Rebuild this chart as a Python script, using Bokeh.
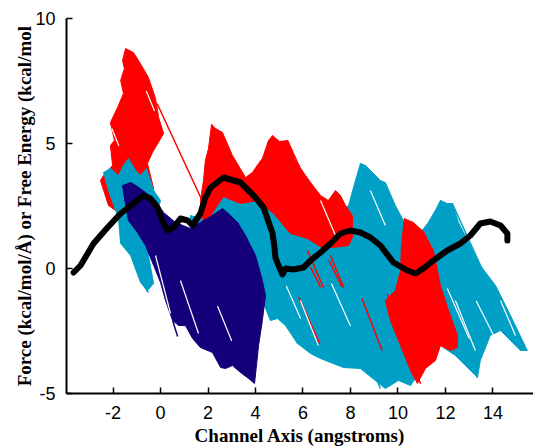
from bokeh.plotting import figure
from bokeh.models import FixedTicker
from bokeh.embed import file_html
from bokeh.resources import INLINE

# ---------------- data ----------------
# free energy profile (black)
fe_x = [-3.66, -3.37, -2.82, -2.23, -1.68, -1.14, -0.72, -0.42, -0.13, 0.08, 0.29, 0.55,
        0.84, 1.14, 1.35, 1.68, 1.89, 2.11, 2.65, 3.37, 3.92, 4.34, 4.72, 4.80, 4.84,
        4.97, 5.14, 5.26, 5.60, 6.02, 6.32, 6.74, 7.16, 7.58, 8.00, 8.42, 8.84, 9.26,
        9.81, 10.40, 10.74, 11.07, 11.49, 12.08, 12.63, 13.05, 13.47, 13.89, 14.32,
        14.61, 14.61]
fe_y = [-0.16, 0.12, 1.00, 1.64, 2.20, 2.60, 2.92, 2.80, 2.44, 1.92, 1.52, 1.64,
        2.00, 1.92, 1.72, 2.20, 2.84, 3.24, 3.64, 3.44, 2.92, 2.44, 1.40, 0.84, 0.44,
        0.12, -0.24, 0.00, -0.04, 0.04, 0.32, 0.64, 1.00, 1.40, 1.52, 1.44, 1.24, 0.92,
        0.24, -0.08, -0.20, 0.00, 0.32, 0.72, 1.00, 1.32, 1.80, 1.88, 1.72,
        1.40, 1.12]

# force trace envelopes
red_a_x = [-1.47, -1.14, -0.80, -0.51, -0.21, -0.08, 0.13, -0.34, -0.55, -0.29, -0.72,
           -1.26, -1.77, -2.19, -2.53, -2.40, -2.02, -2.11, -1.94, -2.11, -1.81, -1.56,
           -1.68, -1.52, -1.60]
red_a_y = [8.80, 8.64, 8.12, 7.64, 6.80, 6.04, 5.40, 4.64, 4.20, 3.20, 2.92,
           2.52, 2.24, 2.52, 3.52, 3.72, 4.12, 4.92, 5.12, 5.84, 6.44, 7.00,
           7.52, 8.00, 8.32]

red_b_x = [1.89, 2.02, 2.15, 2.32, 2.61, 3.03, 3.58, 3.87, 4.13, 4.29, 4.55, 4.72, 5.01,
           5.35, 5.68, 6.11, 6.32, 6.74, 7.07, 7.37, 7.58, 7.79, 8.08, 8.08, 7.92, 6.86,
           6.19, 5.47, 4.76, 4.08, 3.37, 2.65, 2.11, 1.81, 1.68, 1.81]
red_b_y = [4.32, 4.80, 5.76, 5.60, 5.44, 4.52, 3.64, 3.84, 4.20, 4.40, 5.12, 5.32, 5.08,
           5.12, 4.32, 3.72, 3.44, 2.92, 2.72, 3.12, 2.92, 2.52, 2.12, 1.24, 0.92, 0.80,
           1.20, 1.40, 2.20, 2.72, 2.60, 2.88, 2.12, 1.84, 2.72, 3.52]

red_c_x = [10.15, 10.27, 10.65, 11.07, 11.49, 11.79, 12.13, 12.51, 12.51, 12.21, 11.79,
           11.58, 11.16, 10.82, 10.53, 10.11, 9.68, 9.47, 9.89, 10.11]
red_c_y = [0.92, 2.00, 1.84, 1.48, 0.72, -0.68, -1.68, -2.68, -3.16, -3.28, -3.08,
           -3.68, -4.00, -4.60, -4.08, -3.08, -2.08, -1.28, -0.88, -0.08]

cyan_a_x = [-2.40, -2.11, -1.77, -1.56, -1.35, -1.05, -0.84, -0.59, -0.29, 0.00, -0.42,
            -0.51, -0.29, -0.55, -0.84, -1.26, -1.68, -1.77, -2.19]
cyan_a_y = [3.84, 4.00, 3.72, 4.12, 4.40, 3.92, 3.72, 4.00, 3.12, 2.72, 1.32,
            0.52, -0.60, -0.88, -0.56, 0.52, 1.00, 2.00, 3.12]

cyan_b_x = [1.26, 1.68, 1.89, 2.32, 2.61, 2.95, 3.37, 3.87, 4.42, 5.05, 5.47, 5.89, 6.32,
            6.95, 7.58, 7.92, 8.21, 8.42, 8.63, 8.93, 9.26, 9.47, 9.89, 10.23, 10.53,
            10.95, 11.28, 11.62, 11.79, 12.08, 12.29, 12.55, 13.05, 13.47, 14.11, 14.74,
            15.45, 15.16, 14.32, 13.89, 13.47, 13.35, 12.84, 12.42, 11.79, 11.37, 10.95,
            10.53, 10.02, 9.47, 9.05, 8.42, 7.71, 7.16, 6.74, 6.32, 5.77, 5.26, 4.93,
            4.63, 4.29, 3.79, 3.37, 2.74, 2.11, 1.68, 1.26]
cyan_b_y = [2.12, 2.00, 2.72, 2.92, 3.20, 2.92, 2.72, 2.80, 2.52, 2.32, 2.00, 1.84, 1.44,
            1.32, 2.32, 2.52, 3.52, 4.20, 4.12, 3.84, 3.52, 3.44, 2.52, 1.92, 1.60,
            1.44, 1.84, 2.40, 2.72, 2.60, 2.60, 1.84, 0.92, 0.12, -0.68, -1.88,
            -3.28, -3.28, -2.48, -2.68, -3.68, -4.36, -3.88, -3.48, -3.08, -3.68, -4.08,
            -4.68, -4.48, -4.80, -4.48, -4.00, -3.96, -3.76, -3.60, -3.40, -3.00, -2.28, -2.00,
            -2.08, -1.28, -0.08, 0.52, 0.92, 0.72, 1.12, 1.32]

navy_x = [-1.60, -1.26, -0.97, -0.63, -0.21, 0.13, 0.63, 1.26, 1.68, 2.11, 2.61, 2.95, 3.24,
          3.58, 4.00, 4.29, 4.42, 4.29, 4.13, 3.96, 3.71, 3.37, 3.03, 2.74, 2.53, 2.19,
          1.68, 1.35, 1.05, 0.76, 0.51, 0.21, 0.00, -0.29, -0.63, -0.97, -1.35, -1.47]
navy_y = [3.32, 3.44, 3.28, 3.04, 2.72, 2.24, 1.84, 1.60, 1.84, 2.08, 2.40, 2.12, 1.84,
          1.32, 0.52, -0.48, -1.08, -2.08, -3.08, -4.60, -4.40, -4.16, -3.88, -4.00, -3.96, -3.36,
          -3.16, -2.80, -2.28, -2.28, -2.08, -1.28, -0.56, 0.12, 0.92, 1.44, 1.92, 2.52]

# single force strokes (x0, y0, x1, y1)
red_s_x0 = [-0.14, 6.32, 5.82, 7.09, 8.49, 9.55, -1.14, -0.72, 6.19, 7.16, 4.55, 5.35, 2.15]
red_s_y0 = [6.59, 0.05, -1.15, 0.32, -1.21, -1.01, 1.40, -0.36, 0.72, 0.52, 5.12, 5.12, 5.76]
red_s_x1 = [1.81, 6.74, 6.71, 7.65, 9.33, 10.95, -0.84, -0.51, 6.86, 7.71, 5.60, 6.60, 3.00]
red_s_y1 = [2.60, -0.75, -3.01, -0.75, -3.28, -4.61, 0.60, -0.80, -0.76, -0.76, 2.90, 2.50, 3.90]

cyan_s_x0 = [4.93, 6.44, 8.13, 11.92, 13.77, 8.42, 11.79, -1.77, -0.84, 8.63, 12.29]
cyan_s_y0 = [-0.88, -1.16, -2.08, -0.08, -1.68, 4.20, 2.72, 2.04, -0.48, 4.12, 2.60]
cyan_s_x1 = [5.77, 7.71, 9.26, 13.35, 15.28, 9.56, 13.18, -1.14, -0.51, 10.60, 14.30]
cyan_s_y1 = [-3.00, -3.96, -4.80, -4.36, -3.28, 1.92, -0.08, 0.32, -0.96, -0.10, -1.60]

navy_s_x0 = [0.51, 3.24]
navy_s_y0 = [-2.08, 1.84]
navy_s_x1 = [0.72, 4.10]
navy_s_y1 = [-2.72, -0.10]

# white gaps between streaks inside the dense bands
gap_x0 = [-0.21, 0.84, -2.05, 12.08, 13.30, 7.20, 5.30, -0.60,
          12.42, 14.32, 5.89, 6.74, 8.84, 2.40]
gap_y0 = [0.52, -0.48, 5.60, -0.80, -1.30, -0.60, -0.70, 7.10,
          -1.28, -1.28, -1.28, 2.72, 3.12, -1.50]
gap_x1 = [0.42, 1.60, -1.75, 13.00, 14.20, 8.00, 5.90, -0.25,
          13.26, 14.95, 6.65, 7.37, 9.47, 3.00]
gap_y1 = [-1.80, -2.60, 4.90, -2.80, -3.00, -2.30, -2.00, 6.30,
          -3.28, -2.68, -3.08, 1.32, 1.72, -2.90]

x_ticks = [-2, 0, 2, 4, 6, 8, 10, 12, 14]
y_ticks = [-5, 0, 5, 10]

RED = "#FF0000"
CYAN = "#00A0C6"
NAVY = "#15007A"

# ---------------- figure ----------------
p = figure(width=533, height=448, x_range=(-3.96, 15.71), y_range=(-5, 10),
           min_border_left=66, min_border_right=0, min_border_top=18, min_border_bottom=55,
           output_backend="svg", toolbar_location=None)
p.outline_line_color = None
p.xgrid.visible = False
p.ygrid.visible = False
p.background_fill_color = "white"

p.patch(cyan_b_x, cyan_b_y, fill_color=CYAN, line_color=CYAN, line_width=1)
p.segment(cyan_s_x0, cyan_s_y0, cyan_s_x1, cyan_s_y1, line_color=CYAN, line_width=1.5)
p.patches([red_a_x, red_b_x, red_c_x], [red_a_y, red_b_y, red_c_y],
          fill_color=RED, line_color=RED, line_width=1)
p.segment(red_s_x0, red_s_y0, red_s_x1, red_s_y1, line_color=RED, line_width=1.5)
p.patch(cyan_a_x, cyan_a_y, fill_color=CYAN, line_color=CYAN, line_width=1)
p.patch(navy_x, navy_y, fill_color=NAVY, line_color=NAVY, line_width=1)
p.segment(navy_s_x0, navy_s_y0, navy_s_x1, navy_s_y1, line_color=NAVY, line_width=1.5)
p.segment(gap_x0, gap_y0, gap_x1, gap_y1, line_color="white", line_width=1.2)
p.line(fe_x, fe_y, line_color="black", line_width=6, line_join="round", line_cap="round")

for ax, ticks in ((p.xaxis, x_ticks), (p.yaxis, y_ticks)):
    ax.ticker = FixedTicker(ticks=ticks)
    ax.major_tick_in = 6
    ax.major_tick_out = 0
    ax.minor_tick_line_color = None
    ax.axis_line_width = 2
    ax.major_tick_line_width = 1.5
    ax.major_label_text_font = "Liberation Sans"
    ax.major_label_text_font_size = "18px"
    ax.major_label_text_color = "black"
    ax.major_label_standoff = 12
    ax.axis_label_text_font = "Liberation Serif"
    ax.axis_label_text_font_style = "bold"
    ax.axis_label_text_font_size = "19px"
    ax.axis_label_text_color = "black"

p.xaxis.major_label_overrides = {-2: "-2"}
p.yaxis.major_label_overrides = {-5: "-5"}
p.yaxis.major_label_standoff = 11

p.yaxis.axis_label = "Force (kcal/mol/Å) or Free Energy (kcal/mol"
p.yaxis.axis_label_standoff = -3
p.xaxis.axis_label = "Channel Axis (angstroms)"
p.xaxis.axis_label_standoff = 3

open("out.html", "w").write(file_html(p, INLINE))
